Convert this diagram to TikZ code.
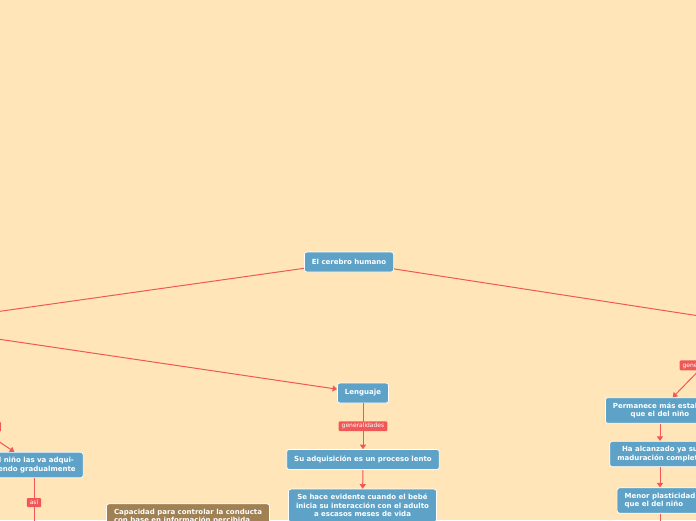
\documentclass[tikz,border=0pt]{standalone}
\usepackage{fontspec}
\setmainfont{DejaVu Sans}
\usetikzlibrary{arrows.meta}
\definecolor{cbg}{RGB}{255,229,183}
\definecolor{cblue}{RGB}{94,163,199}
\definecolor{cred}{RGB}{240,88,88}
\definecolor{cbrown}{RGB}{160,129,84}
\tikzset{
  topic/.style={fill=cblue,draw=white,line width=0.7pt,rounded corners=2.5pt,text=white,
    font=\fontsize{7}{8.6}\selectfont\bfseries,align=center,inner xsep=7.5pt,inner ysep=5pt,minimum height=20pt},
  note/.style={topic,fill=cbrown,align=left},
  link/.style={cred,line width=1pt,-{Triangle[length=4.5pt,width=6pt]}},
  lbl/.style={fill=cred,text=white,font=\fontsize{6}{7}\selectfont,inner xsep=3pt,inner ysep=2pt,rounded corners=1pt}
}

\begin{document}
\begin{tikzpicture}[x=1pt,y=-1pt]
    \useasboundingbox (0,0) rectangle (696,520);
    \fill[cbg] (0,0) rectangle (696,520);
    % branches that leave the page
    \coordinate (offL) at (-97,325);
    \coordinate (offR) at (745,323);
    \coordinate (offLL) at (-80,389);
    \coordinate (offB) at (34,527);
    \coordinate (offP) at (660,533);
    \node[topic] (root) at (349,262) {El cerebro humano};
    \node[topic] (leng) at (363,393) {Lenguaje};
    \node[topic] (adq) at (363,459.5) {Su adquisición es un proceso lento};
    \node[topic] (evid) at (362.5,505.5) {Se hace evidente cuando el bebé\\inicia su interacción con el adulto\\a escasos meses de vida};
    \node[topic] (perm) at (660,410.5) {Permanece más estable\\que el del niño};
    \node[topic] (madur) at (660,454) {Ha alcanzado ya su\\maduración completa};
    \node[topic,align=left] (plast) at (660,500.5) {Menor plasticidad\\que el del niño};
    \node[topic] (nino) at (34,465) {El niño las va adqui-\\riendo gradualmente};
    \node[note] (capac) at (188,516.5) {Capacidad para controlar la conducta\\con base en información percibida};
    % connectors
    \draw[link] (root) -- (offL);
    \draw[link] (offL) -- (leng);
    \draw[link] (root) -- (offR);
    \draw[link] (offR) -- node[lbl,pos=0.57] {generalidades} (perm);
    \draw[link] (perm) -- (madur);
    \draw[link] (madur) -- (plast);
    \draw[link] (plast) -- (offP);
    \draw[link] (leng) -- node[lbl] {generalidades} (adq);
    \draw[link] (adq) -- (evid);
    \draw[link] (offLL) -- node[lbl,pos=0.6] {generalidades} (nino);
    \draw[link] (nino) -- node[lbl] {así} (offB);
\end{tikzpicture}
\end{document}
